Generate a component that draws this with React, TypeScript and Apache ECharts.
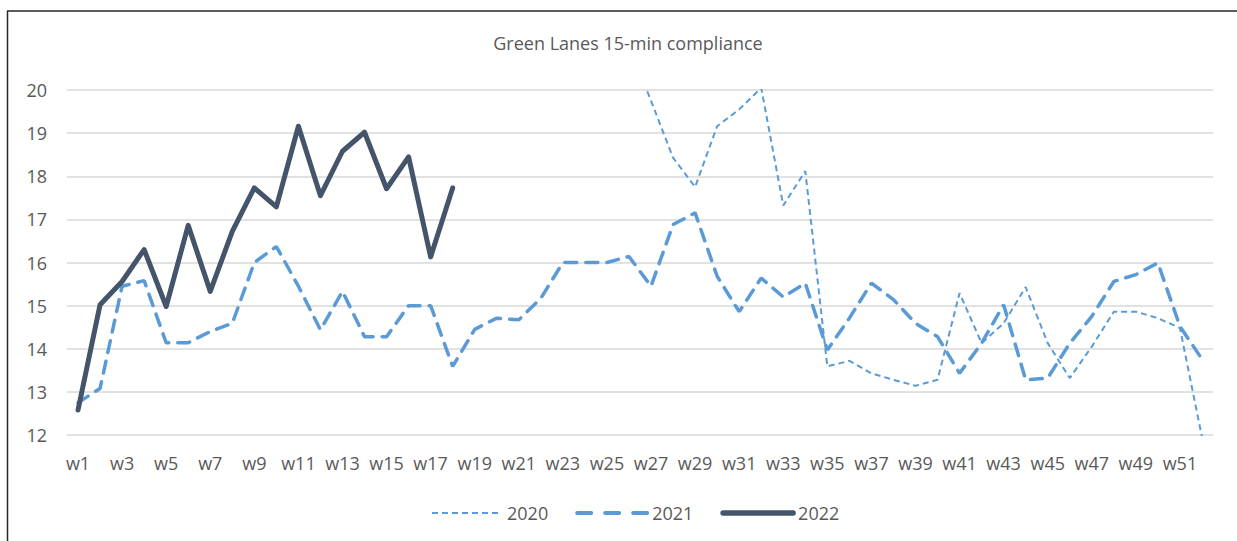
import React, { useEffect, useRef } from "react";
import * as echarts from "echarts";

const weeks = [
  "w1", "w2", "w3", "w4", "w5", "w6", "w7", "w8", "w9", "w10",
  "w11", "w12", "w13", "w14", "w15", "w16", "w17", "w18", "w19", "w20",
  "w21", "w22", "w23", "w24", "w25", "w26", "w27", "w28", "w29", "w30",
  "w31", "w32", "w33", "w34", "w35", "w36", "w37", "w38", "w39", "w40",
  "w41", "w42", "w43", "w44", "w45", "w46", "w47", "w48", "w49", "w50",
  "w51", "w52",
];

// 2020: weeks before w26 lie above the visible range (not readable)
const v2020: (number | null)[] = [
  null, null, null, null, null, null, null, null, null, null,
  null, null, null, null, null, null, null, null, null, null,
  null, null, null, null, null, 21.05, 19.75, 18.43, 17.75, 19.16,
  19.55, 20.05, 17.32, 18.12, 13.59, 13.72, 13.43, 13.28, 13.14, 13.28,
  15.29, 14.13, 14.59, 15.43, 14.13, 13.32, 14.05, 14.86, 14.86, 14.71,
  14.48, 11.95,
];

const v2021 = [
  12.75, 13.08, 15.45, 15.58, 14.14, 14.14, 14.4, 14.59, 16.0, 16.37,
  15.45, 14.44, 15.33, 14.28, 14.28, 15.0, 15.0, 13.59, 14.45, 14.71,
  14.67, 15.17, 16.0, 16.0, 16.0, 16.14, 15.45, 16.88, 17.15, 15.68,
  14.86, 15.64, 15.2, 15.52, 13.97, 14.71, 15.52, 15.14, 14.59, 14.28,
  13.43, 14.13, 15.02, 13.28, 13.32, 14.13, 14.75, 15.56, 15.72, 15.99,
  14.52, 13.76,
];

const v2022 = [
  12.58, 15.02, 15.56, 16.3, 14.98, 16.86, 15.33, 16.72, 17.73, 17.29,
  19.16, 17.55, 18.58, 19.02, 17.71, 18.45, 16.13, 17.73,
];

const FONT = "'Open Sans', 'Liberation Sans', sans-serif";
const TEXT = "#595959";
const LIGHT = "#5b9bd5";
const DARK = "#44546a";

export default function App() {
  const ref = useRef<HTMLDivElement>(null);

  useEffect(() => {
    if (!ref.current) return;
    const chart = echarts.init(ref.current, null, { renderer: "svg" });
    chart.setOption({
      animation: false,
      backgroundColor: "#ffffff",
      textStyle: { fontFamily: FONT },
      title: {
        text: "Green Lanes 15-min compliance",
        left: 628,
        top: 34,
        padding: 0,
        textAlign: "center",
        textStyle: { color: TEXT, fontSize: 18, fontWeight: "normal", fontFamily: FONT },
      },
      graphic: [
        { type: "line", shape: { x1: 7.5, y1: 11, x2: 7.5, y2: 541 }, style: { stroke: "#262626", lineWidth: 1.5 } },
        { type: "line", shape: { x1: 7, y1: 11, x2: 1237, y2: 11 }, style: { stroke: "#262626", lineWidth: 1.5 } },
      ],
      legend: {
        bottom: 14,
        left: 426,
        itemWidth: 70,
        itemHeight: 14,
        itemGap: 27,
        itemStyle: { opacity: 0 },
        textStyle: { color: TEXT, fontSize: 18, fontFamily: FONT },
        data: [
          { name: "2020", itemStyle: { opacity: 0 }, lineStyle: { width: 2, type: [6, 4], color: LIGHT } },
          { name: "2021", itemStyle: { opacity: 0 }, lineStyle: { width: 4, type: [14, 14], cap: "round", color: LIGHT } },
          { name: "2022", itemStyle: { opacity: 0 }, lineStyle: { width: 5.5, type: "solid", cap: "round", color: DARK } },
        ],
      },
      grid: { left: 67, right: 24, top: 90, bottom: 106, containLabel: false },
      xAxis: {
        type: "category",
        data: weeks,
        boundaryGap: true,
        axisLine: { show: false },
        axisTick: { show: false },
        axisLabel: { interval: 1, color: TEXT, fontSize: 18, margin: 19, fontFamily: FONT },
      },
      yAxis: {
        type: "value",
        min: 12,
        max: 20,
        interval: 1,
        axisLine: { show: false },
        axisTick: { show: false },
        axisLabel: { color: TEXT, fontSize: 18, margin: 20, fontFamily: FONT },
        splitLine: { lineStyle: { color: "#d9d9d9", width: 1.5 } },
      },
      series: [
        {
          name: "2020",
          type: "line",
          data: v2020,
          symbol: "none",
          clip: true,
          itemStyle: { color: LIGHT },
          lineStyle: { color: LIGHT, width: 2, type: [6, 4] },
          z: 2,
        },
        {
          name: "2021",
          type: "line",
          data: v2021,
          symbol: "none",
          clip: true,
          itemStyle: { color: LIGHT },
          lineStyle: { color: LIGHT, width: 3.5, type: [12, 9], cap: "round" },
          z: 3,
        },
        {
          name: "2022",
          type: "line",
          data: v2022,
          symbol: "none",
          clip: true,
          itemStyle: { color: DARK },
          lineStyle: { color: DARK, width: 5, cap: "round", join: "round" },
          z: 4,
        },
      ],
    });
    return () => chart.dispose();
  }, []);

  return (
    <div
      ref={ref}
      style={{ position: "absolute", left: 0, top: 0, width: 1237, height: 541 }}
    />
  );
}
